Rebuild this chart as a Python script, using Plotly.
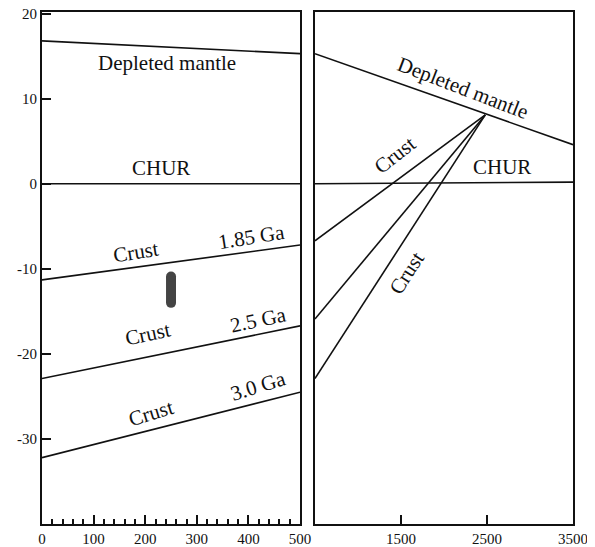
import plotly.graph_objects as go

# ---- data ----
age_left = [0, 500]
dm_left = [16.8, 15.3]
chur_left = [0.0, 0.0]
crust_185 = [-11.3, -7.2]
crust_250 = [-22.9, -16.7]
crust_300 = [-32.2, -24.5]

bar_x = [250, 250]
bar_y = [-10.9, -14.0]

age_right = [500, 3500]
dm_right = [15.3, 4.6]
chur_right = [0.0, 0.2]
crust_r1_x = [500, 1400, 2480]
crust_r1_y = [-6.7, 0.0, 8.1]
crust_r2_x = [500, 2480]
crust_r2_y = [-15.9, 8.1]
crust_r3_x = [500, 2480]
crust_r3_y = [-22.9, 8.1]

left_xticks = [0, 100, 200, 300, 400, 500]
right_xticks = [1500, 2500, 3500]
yticks = [-30, -20, -10, 0, 10, 20]
ytick_text = ["-30", "-20", "-10", "0", "10", "20"]

FONT = "Liberation Serif"
INK = "#111111"

fig = go.Figure()

def line(x, y, xa, ya):
    fig.add_trace(go.Scatter(x=x, y=y, mode="lines", xaxis=xa, yaxis=ya,
                             line=dict(color=INK, width=1.6), hoverinfo="skip",
                             showlegend=False))

for yy in [dm_left, chur_left, crust_185, crust_250, crust_300]:
    line(age_left, yy, "x", "y")

fig.add_trace(go.Scatter(x=bar_x, y=bar_y, mode="lines+markers", xaxis="x", yaxis="y",
                         line=dict(color="#444444", width=10),
                         marker=dict(color="#444444", size=10, line=dict(width=0)),
                         hoverinfo="skip", showlegend=False))

line(age_right, dm_right, "x2", "y2")
line(age_right, chur_right, "x2", "y2")
line(crust_r1_x, crust_r1_y, "x2", "y2")
line(crust_r2_x, crust_r2_y, "x2", "y2")
line(crust_r3_x, crust_r3_y, "x2", "y2")

labels = [
    ("x", "y", 243, 14.2, "Depleted mantle", 0),
    ("x", "y", 231, 1.85, "CHUR", 0),
    ("x", "y", 183, -8.0, "Crust", -9),
    ("x", "y", 406, -6.2, "1.85 Ga", -9),
    ("x", "y", 205, -17.7, "Crust", -12),
    ("x", "y", 419, -16.0, "2.5 Ga", -12),
    ("x", "y", 212, -26.9, "Crust", -17),
    ("x", "y", 419, -23.8, "3.0 Ga", -17),
    ("x2", "y2", 2223, 11.3, "Depleted mantle", 21),
    ("x2", "y2", 2673, 2.0, "CHUR", 0),
    ("x2", "y2", 1431, 3.4, "Crust", -38),
    ("x2", "y2", 1567, -10.5, "Crust", -57),
]
for xr, yr, x, y, t, a in labels:
    fig.add_annotation(x=x, y=y, xref=xr, yref=yr, text=t, textangle=a,
                       showarrow=False, font=dict(family=FONT, size=21, color=INK))

axis_common = dict(showline=True, linecolor=INK, linewidth=2, mirror=True,
                   showgrid=False, zeroline=False, automargin=False,
                   ticklabeloverflow="allow",
                   tickfont=dict(family=FONT, size=15, color=INK))

# page body adds an 8px offset, so the figure is sized to fit inside the window
fig.update_layout(
    width=587, height=539,
    margin=dict(l=34, r=22, t=4, b=23),
    paper_bgcolor="white", plot_bgcolor="white",
    showlegend=False,
    xaxis=dict(domain=[0, 0.486], range=[0, 500], tickvals=left_xticks,
               ticks="inside", ticklen=9, tickwidth=2, tickcolor=INK,
               minor=dict(ticks="inside", dtick=20, ticklen=5, tickwidth=2, tickcolor=INK),
               **axis_common),
    yaxis=dict(range=[-40, 20.2], tickvals=yticks, ticktext=ytick_text,
               ticks="inside", ticklen=9, tickwidth=2, tickcolor=INK, anchor="x",
               **axis_common),
    xaxis2=dict(domain=[0.514, 1], range=[500, 3500], tickvals=right_xticks,
                ticks="inside", ticklen=9, tickwidth=2, tickcolor=INK, anchor="y2",
                **axis_common),
    yaxis2=dict(range=[-40, 20.2], anchor="x2", showticklabels=False, ticks="",
                **axis_common),
)

fig.write_html("out.html")
